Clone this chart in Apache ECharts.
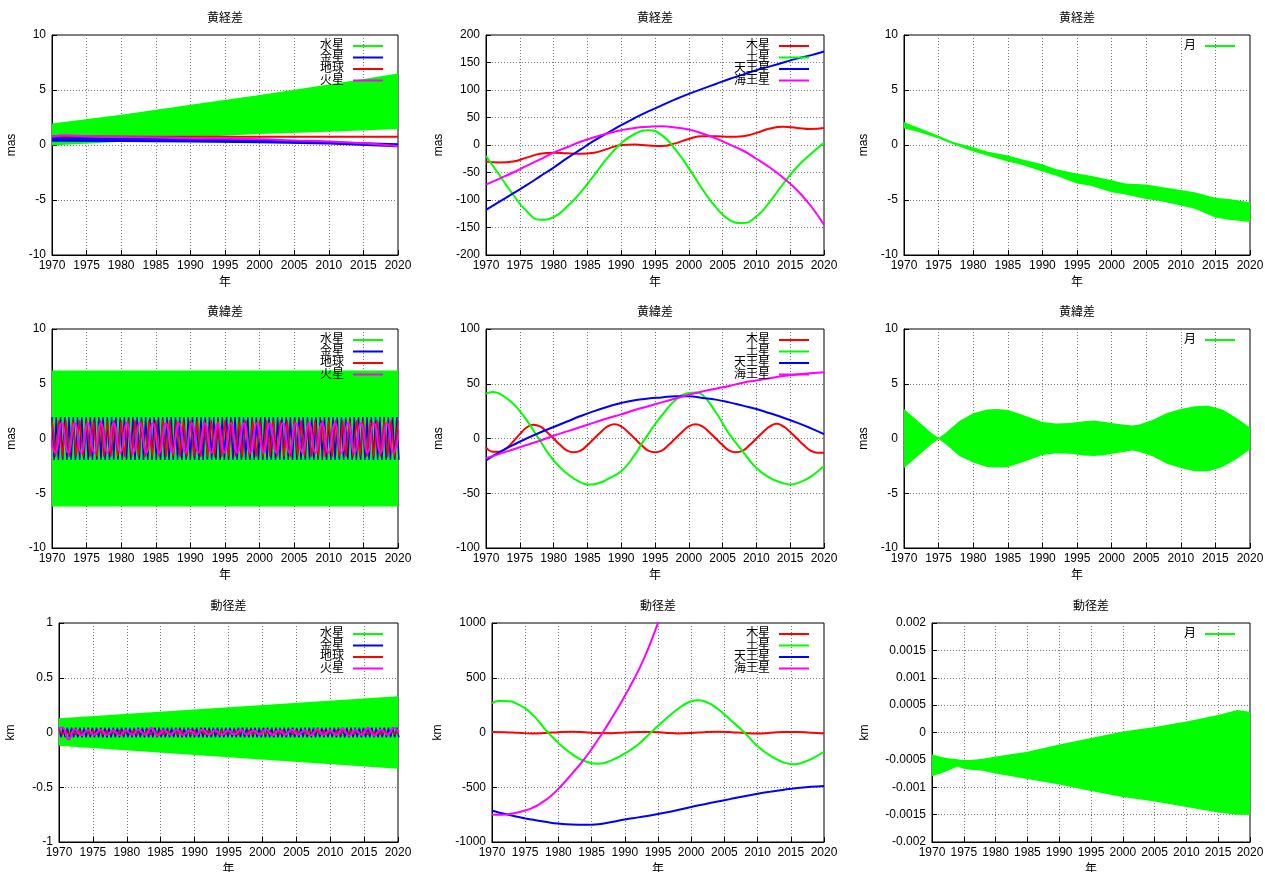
<!DOCTYPE html>
<html>
<head>
<meta charset="utf-8">
<title>差</title>
<script src="https://cdn.jsdelivr.net/npm/echarts@6/dist/echarts.min.js"></script>
<style>
html, body { margin: 0; padding: 0; background: #fff; }
#main { width: 1265px; height: 872px; }
</style>
</head>
<body>
<div id="main"></div>
<script>
'use strict';

// ---- 黄経差 (inner planets) ----
var mercLonYears = [1970, 1980, 1990, 2000, 2010, 2020];
var mercLonHi = [1.95, 2.75, 3.65, 4.55, 5.5, 6.5];
var mercLonLo = [-0.05, 0.3, 0.7, 1.0, 1.2, 1.45];
var venusLonYears = [1970, 1980, 1990, 2000, 2010, 2020];
var venusLonHi = [0.75, 0.68, 0.6, 0.5, 0.35, 0.15];
var venusLonLo = [0.3, 0.27, 0.22, 0.15, 0.05, -0.2];
var earthLonYears = [1970, 1980, 1990, 2000, 2010, 2020];
var earthLonVals = [0.8, 0.77, 0.75, 0.74, 0.74, 0.75];
var marsLonYears = [1970, 1972, 1975, 1980, 1985, 1990, 1995, 2000, 2005, 2010, 2015, 2020];
var marsLonVals = [0.75, 0.88, 0.8, 0.72, 0.68, 0.62, 0.58, 0.52, 0.42, 0.32, 0.15, -0.12];

// ---- outer planets, sampled every 2 years ----
var outerYears = [1970, 1972, 1974, 1976, 1978, 1980, 1982, 1984, 1986, 1988, 1990, 1992, 1994,
    1996, 1998, 2000, 2002, 2004, 2006, 2008, 2010, 2012, 2014, 2016, 2018, 2020];
var jupLon = [-30, -32, -30, -23, -16, -14, -15, -16, -14, -7, 0, 1, -1, -2, 3, 11, 16, 16, 15, 16, 22, 30, 33, 31, 29, 31];
var satLon = [-20, -55, -90, -120, -136, -131, -112, -86, -55, -23, 3, 20, 27, 18, -8, -42, -80, -113, -136, -142, -130, -103, -70, -40, -17, 4];
var uraLon = [-118, -103, -88, -73, -57, -41, -24, -8, 8, 22, 36, 49, 61, 72, 83, 93, 102, 111, 120, 128, 136, 143, 150, 157, 163, 170];
var nepLon = [-72, -61, -50, -38, -26, -14, -4, 6, 14, 21, 27, 31, 33, 34, 32, 28, 21, 12, 1, -10, -25, -41, -60, -82, -110, -145];

// ---- 黄緯差 (outer planets) ----
var jupLatYears = [1970, 1971, 1972, 1973, 1974, 1975, 1976, 1977, 1978, 1979,
    1980, 1981, 1982, 1983, 1984, 1985, 1986, 1987, 1988, 1989,
    1990, 1991, 1992, 1993, 1994, 1995, 1996, 1997, 1998, 1999,
    2000, 2001, 2002, 2003, 2004, 2005, 2006, 2007, 2008, 2009,
    2010, 2011, 2012, 2013, 2014, 2015, 2016, 2017, 2018, 2019, 2020];
var jupLat = [-8, -12, -12, -9, -3, 4, 10, 12.5, 11, 6,
    0, -6, -11, -12.5, -11, -6, 0, 6, 11, 13,
    11, 6, 0, -6, -11, -12.5, -11, -6, 0, 6,
    11, 13, 11, 6, 0, -6, -11, -12.5, -11, -6,
    0, 6, 11, 13.5, 11, 6, 0, -6, -11, -13, -13];
var satLatYears = [1970, 1971, 1972, 1974, 1975, 1976, 1978, 1980, 1982, 1984,
    1985.5, 1987, 1988, 1990, 1992, 1993, 1994, 1995, 1996, 1998,
    2000, 2001, 2002, 2004, 2005, 2006, 2008, 2010, 2012, 2014,
    2015, 2016, 2018, 2020];
var satLat = [41, 42.5, 41, 32, 25, 17, -2, -20, -32, -40,
    -42, -40, -37, -30, -15, -5, 4, 13, 21, 35,
    41.5, 42, 40, 24, 14, 4, -12, -27, -36, -41,
    -42, -41, -35, -25];
var uraLat = [-20, -12.5, -6, 0, 5.5, 10.5, 15.5, 20.5, 25, 29, 32.5, 35, 36.5, 37.5, 38.5, 38.5, 37, 35.5, 33, 30, 27, 23, 19, 14.5, 9.5, 4];
var nepLat = [-18, -14, -10, -6, -2, 2.5, 6.5, 10.5, 14.5, 18.5, 22, 26, 29.5, 33, 36.5, 40, 43, 45.5, 48, 51, 53, 55, 57, 58.5, 59.5, 60.5];

// ---- 動径差 (outer planets) ----
var jupRad = [5, 3, -3, -8, -4, 3, 6, 2, -5, -6, 0, 5, 5, -2, -8, -5, 3, 6, 3, -5, -9, -3, 5, 5, -3, -8];
var satRadYears = [1970, 1971, 1972, 1974, 1976, 1978, 1980, 1982, 1984, 1986,
    1988, 1990, 1992, 1994, 1996, 1998, 2000, 2001, 2002, 2004,
    2006, 2008, 2010, 2012, 2014, 2015.5, 2017, 2018, 2020];
var satRad = [268, 287, 288, 255, 170, 30, -95, -195, -262, -285,
    -255, -191, -110, 5, 115, 215, 285, 295, 285, 215,
    110, 0, -125, -215, -275, -290, -270, -245, -176];
var uraRad = [-712, -745, -772, -795, -815, -832, -841, -843, -838, -818,
    -795, -775, -755, -733, -708, -680, -655, -630, -606, -583,
    -560, -540, -522, -507, -496, -488];
var nepRadYears = [1970, 1971, 1972, 1973, 1974, 1975, 1976, 1977, 1978, 1979,
    1980, 1981, 1982, 1983, 1984, 1985, 1986, 1987, 1988, 1989,
    1990, 1991, 1992, 1993, 1994, 1995, 1996];
var nepRad = [-748, -752, -750, -740, -728, -712, -690, -660, -620, -572,
    -515, -450, -380, -310, -235, -152, -62, 30, 128, 228,
    333, 445, 560, 690, 840, 1000, 1170];

// ---- 月 (envelopes of the fast oscillation) ----
var moonLonYears = [1970, 1972, 1975, 1977, 1980, 1982, 1985, 1987, 1990, 1992, 1995, 1997, 2000, 2002, 2005, 2007, 2010, 2012, 2015, 2017, 2020];
var moonLonHi = [2.1, 1.6, 0.85, 0.3, -0.2, -0.6, -0.95, -1.3, -1.75, -2.2, -2.6, -2.8, -3.2, -3.5, -3.6, -3.8, -4.1, -4.3, -4.8, -4.9, -5.2];
var moonLonLo = [1.5, 1.2, 0.6, 0.1, -0.6, -0.95, -1.5, -1.8, -2.4, -2.8, -3.5, -3.7, -4.3, -4.5, -4.9, -5.1, -5.5, -5.8, -6.6, -6.8, -7.0];
var moonLatYears = [1970, 1972, 1974, 1975, 1976, 1978, 1980, 1982, 1983.5, 1985,
    1987, 1990, 1992, 1994, 1996, 1997.5, 1999, 2001, 2003, 2004,
    2006, 2008, 2010, 2012, 2014, 2016, 2018, 2020];
var moonLatHi = [2.7, 1.6, 0.5, 0.05, 0.5, 1.6, 2.3, 2.65, 2.7, 2.6,
    2.2, 1.5, 1.36, 1.42, 1.58, 1.64, 1.5, 1.33, 1.18, 1.27,
    1.72, 2.33, 2.7, 2.94, 3.0, 2.64, 1.9, 1.0];
var moonLatLo = [-2.7, -1.6, -0.5, -0.05, -0.5, -1.6, -2.2, -2.6, -2.65, -2.6,
    -2.2, -1.5, -1.35, -1.4, -1.55, -1.6, -1.5, -1.3, -1.1, -1.2,
    -1.65, -2.3, -2.7, -3.0, -3.0, -2.6, -1.9, -1.0];
var moonRadYears = [1970, 1972, 1974, 1975, 1976, 1978, 1980, 1985, 1990, 1995, 2000, 2005, 2010, 2015, 2018, 2020];
var moonRadHi = [-0.0004, -0.00046, -0.00049, -0.0005, -0.0005, -0.00048, -0.00044, -0.00035, -0.00022, -0.0001, 0.00002, 0.0001, 0.0002, 0.00032, 0.00041, 0.00038];
var moonRadLo = [-0.0008, -0.00072, -0.00062, -0.00066, -0.00068, -0.0007, -0.00075, -0.00085, -0.00095, -0.00107, -0.00118, -0.00126, -0.00136, -0.00146, -0.0015, -0.0015];

// ---- inner planets, 黄緯差 / 動径差 ----
var mercLatYears = [1970, 2020];
var mercLatHi = [6.2, 6.2];
var mercLatLo = [-6.2, -6.2];
var mercRadYears = [1970, 1995, 2020];
var mercRadHi = [0.13, 0.23, 0.33];
var mercRadLo = [-0.12, -0.225, -0.33];

// extremes of the oscillations, one value every half period
var venusStart = 1970.0, venusStep = 0.3076;
var earthStart = 1970.0, earthStep = 0.5;
var marsStart = 1969.53, marsStep = 0.94;
var venusLat = [
    1.95, -1.95, 1.95, -1.95, 1.95, -1.95, 1.95, -1.95, 1.95, -1.95, 1.95, -1.95, 1.95, -1.95, 1.95, -1.95, 1.95, -1.95, 1.95, -1.95,
    1.95, -1.95, 1.95, -1.95, 1.95, -1.95, 1.95, -1.95, 1.95, -1.95, 1.95, -1.95, 1.95, -1.95, 1.95, -1.95, 1.95, -1.95, 1.95, -1.95,
    1.95, -1.95, 1.95, -1.95, 1.95, -1.95, 1.95, -1.95, 1.95, -1.95, 1.95, -1.95, 1.95, -1.95, 1.95, -1.95, 1.95, -1.95, 1.95, -1.95,
    1.95, -1.95, 1.95, -1.95, 1.95, -1.95, 1.95, -1.95, 1.95, -1.95, 1.95, -1.95, 1.95, -1.95, 1.95, -1.95, 1.95, -1.95, 1.95, -1.95,
    1.95, -1.95, 1.95, -1.95, 1.95, -1.95, 1.95, -1.95, 1.95, -1.95, 1.95, -1.95, 1.95, -1.95, 1.95, -1.95, 1.95, -1.95, 1.95, -1.95,
    1.95, -1.95, 1.95, -1.95, 1.95, -1.95, 1.95, -1.95, 1.95, -1.95, 1.95, -1.95, 1.95, -1.95, 1.95, -1.95, 1.95, -1.95, 1.95, -1.95,
    1.95, -1.95, 1.95, -1.95, 1.95, -1.95, 1.95, -1.95, 1.95, -1.95, 1.95, -1.95, 1.95, -1.95, 1.95, -1.95, 1.95, -1.95, 1.95, -1.95,
    1.95, -1.95, 1.95, -1.95, 1.95, -1.95, 1.95, -1.95, 1.95, -1.95, 1.95, -1.95, 1.95, -1.95, 1.95, -1.95, 1.95, -1.95, 1.95, -1.95,
    1.95, -1.95, 1.95, -1.95
];
var earthLat = [
    1.65, -1.65, 1.65, -1.65, 1.65, -1.65, 1.65, -1.65, 1.65, -1.65, 1.65, -1.65, 1.65, -1.65, 1.65, -1.65, 1.65, -1.65, 1.65, -1.65,
    1.65, -1.65, 1.65, -1.65, 1.65, -1.65, 1.65, -1.65, 1.65, -1.65, 1.65, -1.65, 1.65, -1.65, 1.65, -1.65, 1.65, -1.65, 1.65, -1.65,
    1.65, -1.65, 1.65, -1.65, 1.65, -1.65, 1.65, -1.65, 1.65, -1.65, 1.65, -1.65, 1.65, -1.65, 1.65, -1.65, 1.65, -1.65, 1.65, -1.65,
    1.65, -1.65, 1.65, -1.65, 1.65, -1.65, 1.65, -1.65, 1.65, -1.65, 1.65, -1.65, 1.65, -1.65, 1.65, -1.65, 1.65, -1.65, 1.65, -1.65,
    1.65, -1.65, 1.65, -1.65, 1.65, -1.65, 1.65, -1.65, 1.65, -1.65, 1.65, -1.65, 1.65, -1.65, 1.65, -1.65, 1.65, -1.65, 1.65, -1.65,
    1.65
];
var marsLat = [
    1.4, -1.3, 1.4, -1.3, 1.4, -1.3, 1.4, -1.3, 1.4, -1.3, 1.4, -1.3, 1.4, -1.3, 1.4, -1.3, 1.4, -1.3, 1.4, -1.3,
    1.4, -1.3, 1.4, -1.3, 1.4, -1.3, 1.4, -1.3, 1.4, -1.3, 1.4, -1.3, 1.4, -1.3, 1.4, -1.3, 1.4, -1.3, 1.4, -1.3,
    1.4, -1.3, 1.4, -1.3, 1.4, -1.3, 1.4, -1.3, 1.4, -1.3, 1.4, -1.3, 1.4, -1.3, 1.4
];
var venusRad = [
    0.045, -0.045, 0.045, -0.045, 0.045, -0.045, 0.045, -0.045, 0.045, -0.045, 0.045, -0.045, 0.045, -0.045, 0.045, -0.045, 0.045, -0.045, 0.045, -0.045,
    0.045, -0.045, 0.045, -0.045, 0.045, -0.045, 0.045, -0.045, 0.045, -0.045, 0.045, -0.045, 0.045, -0.045, 0.045, -0.045, 0.045, -0.045, 0.045, -0.045,
    0.045, -0.045, 0.045, -0.045, 0.045, -0.045, 0.045, -0.045, 0.045, -0.045, 0.045, -0.045, 0.045, -0.045, 0.045, -0.045, 0.045, -0.045, 0.045, -0.045,
    0.045, -0.045, 0.045, -0.045, 0.045, -0.045, 0.045, -0.045, 0.045, -0.045, 0.045, -0.045, 0.045, -0.045, 0.045, -0.045, 0.045, -0.045, 0.045, -0.045,
    0.045, -0.045, 0.045, -0.045, 0.045, -0.045, 0.045, -0.045, 0.045, -0.045, 0.045, -0.045, 0.045, -0.045, 0.045, -0.045, 0.045, -0.045, 0.045, -0.045,
    0.045, -0.045, 0.045, -0.045, 0.045, -0.045, 0.045, -0.045, 0.045, -0.045, 0.045, -0.045, 0.045, -0.045, 0.045, -0.045, 0.045, -0.045, 0.045, -0.045,
    0.045, -0.045, 0.045, -0.045, 0.045, -0.045, 0.045, -0.045, 0.045, -0.045, 0.045, -0.045, 0.045, -0.045, 0.045, -0.045, 0.045, -0.045, 0.045, -0.045,
    0.045, -0.045, 0.045, -0.045, 0.045, -0.045, 0.045, -0.045, 0.045, -0.045, 0.045, -0.045, 0.045, -0.045, 0.045, -0.045, 0.045, -0.045, 0.045, -0.045,
    0.045, -0.045, 0.045, -0.045
];
var earthRad = [
    0.018, -0.018, 0.018, -0.018, 0.018, -0.018, 0.018, -0.018, 0.018, -0.018, 0.018, -0.018, 0.018, -0.018, 0.018, -0.018, 0.018, -0.018, 0.018, -0.018,
    0.018, -0.018, 0.018, -0.018, 0.018, -0.018, 0.018, -0.018, 0.018, -0.018, 0.018, -0.018, 0.018, -0.018, 0.018, -0.018, 0.018, -0.018, 0.018, -0.018,
    0.018, -0.018, 0.018, -0.018, 0.018, -0.018, 0.018, -0.018, 0.018, -0.018, 0.018, -0.018, 0.018, -0.018, 0.018, -0.018, 0.018, -0.018, 0.018, -0.018,
    0.018, -0.018, 0.018, -0.018, 0.018, -0.018, 0.018, -0.018, 0.018, -0.018, 0.018, -0.018, 0.018, -0.018, 0.018, -0.018, 0.018, -0.018, 0.018, -0.018,
    0.018, -0.018, 0.018, -0.018, 0.018, -0.018, 0.018, -0.018, 0.018, -0.018, 0.018, -0.018, 0.018, -0.018, 0.018, -0.018, 0.018, -0.018, 0.018, -0.018,
    0.018
];
var marsRad = [
    0.01, 0.045, -0.065, 0.03, -0.025, 0.02, -0.02, 0.025, -0.02, 0.02,
    -0.025, 0.02, -0.02, 0.025, -0.02, 0.04, -0.03, 0.02, -0.02, 0.025,
    -0.025, 0.02, -0.02, 0.03, -0.02, 0.02, -0.025, 0.02, -0.02, 0.025,
    -0.02, 0.02, -0.02, 0.03, -0.025, 0.02, -0.02, 0.025, -0.02, 0.02,
    -0.025, 0.03, -0.02, 0.02, -0.02, 0.035, -0.03, 0.02, -0.02, 0.04,
    -0.03, 0.025, -0.02, 0.04, -0.02
];

var FONT = "'Liberation Sans', 'Noto Sans CJK JP', sans-serif";
var GREEN = '#00ff00', RED = '#ff0000', BLUE = '#0000ff', MAGENTA = '#ff00ff';
var INNER = ['水星', '金星', '地球', '火星'];
var OUTER = ['木星', '土星', '天王星', '海王星'];
var MOON = ['月'];

var panels = [
    {title: '黄経差', unit: 'mas', min: -10, max: 10, interval: 5, box: [52, 35, 346, 220], nameGap: 34, names: INNER},
    {title: '黄経差', unit: 'mas', min: -200, max: 200, interval: 50, box: [486, 35, 338, 220], nameGap: 41, names: OUTER},
    {title: '黄経差', unit: 'mas', min: -10, max: 10, interval: 5, box: [904, 35, 346, 220], nameGap: 34, names: MOON},
    {title: '黄緯差', unit: 'mas', min: -10, max: 10, interval: 5, box: [52, 329, 346, 219], nameGap: 34, names: INNER},
    {title: '黄緯差', unit: 'mas', min: -100, max: 100, interval: 50, box: [486, 329, 338, 219], nameGap: 41, names: OUTER},
    {title: '黄緯差', unit: 'mas', min: -10, max: 10, interval: 5, box: [904, 329, 346, 219], nameGap: 34, names: MOON},
    {title: '動径差', unit: 'km', min: -1, max: 1, interval: 0.5, box: [59, 623, 339, 219], nameGap: 42, names: INNER},
    {title: '動径差', unit: 'km', min: -1000, max: 1000, interval: 500, box: [492, 623, 332, 219], nameGap: 48, names: OUTER},
    {title: '動径差', unit: 'km', min: -0.002, max: 0.002, interval: 0.0005, box: [932, 623, 318, 219], nameGap: 61, names: MOON}
];

function pairs(xs, ys) {
    return xs.map(function (x, i) { return [x, ys[i]]; });
}

function lineSeries(name, color, gi, xs, ys, width, smooth) {
    return {
        name: name, type: 'line', xAxisIndex: gi, yAxisIndex: gi,
        data: pairs(xs, ys), showSymbol: false, symbol: 'none', smooth: smooth,
        clip: true, silent: true, animation: false,
        itemStyle: {color: color},
        lineStyle: {color: color, width: width}
    };
}

function zigSeries(name, color, gi, start, step, vals, width, smooth) {
    var xs = vals.map(function (v, i) { return start + i * step; });
    return lineSeries(name, color, gi, xs, vals, width, smooth);
}

// filled band between a lower and an upper envelope
function bandSeries(name, color, gi, xs, lo, hi) {
    return {
        name: name, type: 'custom', xAxisIndex: gi, yAxisIndex: gi,
        data: xs.map(function (x, i) { return [x, lo[i], hi[i]]; }),
        encode: {x: 0, y: [1, 2]},
        clip: true, silent: true, animation: false,
        itemStyle: {color: color},
        renderItem: function (params, api) {
            if (params.dataIndex !== 0) return null;
            var top = xs.map(function (x, i) { return api.coord([x, hi[i]]); });
            var bottom = xs.map(function (x, i) { return api.coord([x, lo[i]]); }).reverse();
            return {type: 'polygon', shape: {points: top.concat(bottom)}, style: {fill: color}};
        }
    };
}

var txt = {color: '#000', fontSize: 12, fontFamily: FONT};
var grid = [], xAxis = [], yAxis = [], title = [], legend = [];

panels.forEach(function (p, i) {
    var b = p.box;
    grid.push({
        left: b[0], top: b[1], width: b[2], height: b[3],
        show: true, borderColor: '#000', borderWidth: 1, backgroundColor: 'transparent',
        containLabel: false, outerBoundsMode: 'none'
    });
    xAxis.push({
        gridIndex: i, type: 'value', min: 1970, max: 2020, interval: 5,
        name: '年', nameLocation: 'middle', nameGap: 22, nameTextStyle: txt, nameMoveOverlap: false,
        axisLine: {show: true, onZero: false, lineStyle: {color: '#000', width: 1}},
        axisTick: {show: true, inside: true, length: 5, lineStyle: {color: '#000'}},
        axisLabel: {margin: 5, color: '#000', fontSize: 12, fontFamily: FONT,
            formatter: function (v) { return String(v); }},
        splitLine: {show: true, showMinLine: false, showMaxLine: false,
            lineStyle: {type: [1, 2], color: '#777', width: 1}}
    });
    yAxis.push({
        gridIndex: i, type: 'value', min: p.min, max: p.max, interval: p.interval,
        name: p.unit, nameLocation: 'middle', nameGap: p.nameGap, nameTextStyle: txt, nameMoveOverlap: false,
        axisLine: {show: true, onZero: false, lineStyle: {color: '#000', width: 1}},
        axisTick: {show: true, inside: true, length: 5, lineStyle: {color: '#000'}},
        axisLabel: {margin: 6, color: '#000', fontSize: 12, fontFamily: FONT,
            formatter: function (v) { return String(Number(v.toFixed(6))); }},
        splitLine: {show: true, showMinLine: false, showMaxLine: false,
            lineStyle: {type: [1, 2], color: '#777', width: 1}}
    });
    title.push({
        text: p.title, left: b[0] + b[2] / 2, top: b[1] - 22, textAlign: 'center', padding: 0,
        textStyle: {color: '#000', fontSize: 12, fontWeight: 'normal', fontFamily: FONT}
    });
    p.names.forEach(function (name, k) {
        legend.push({
            data: [name], orient: 'horizontal', align: 'right', selectedMode: false,
            right: 1265 - (b[0] + b[2] - 15), top: b[1] + 10 + k * 11.5 - 5, padding: 0,
            icon: 'rect', itemWidth: 30, itemHeight: 2,
            textStyle: {color: '#000', fontSize: 12, fontFamily: FONT, padding: [0, 4, 0, 0]}
        });
    });
});

var series = [
    // 黄経差: inner planets
    bandSeries('水星', GREEN, 0, mercLonYears, mercLonLo, mercLonHi),
    bandSeries('金星', BLUE, 0, venusLonYears, venusLonLo, venusLonHi),
    lineSeries('地球', RED, 0, earthLonYears, earthLonVals, 2, true),
    lineSeries('火星', MAGENTA, 0, marsLonYears, marsLonVals, 2, true),
    // 黄経差: outer planets
    lineSeries('木星', RED, 1, outerYears, jupLon, 2, true),
    lineSeries('土星', GREEN, 1, outerYears, satLon, 2, true),
    lineSeries('天王星', BLUE, 1, outerYears, uraLon, 2, true),
    lineSeries('海王星', MAGENTA, 1, outerYears, nepLon, 2, true),
    // 黄経差: moon
    bandSeries('月', GREEN, 2, moonLonYears, moonLonLo, moonLonHi),
    // 黄緯差: inner planets
    bandSeries('水星', GREEN, 3, mercLatYears, mercLatLo, mercLatHi),
    zigSeries('金星', BLUE, 3, venusStart, venusStep, venusLat, 1.5, false),
    zigSeries('地球', RED, 3, earthStart, earthStep, earthLat, 1.5, false),
    zigSeries('火星', MAGENTA, 3, marsStart, marsStep, marsLat, 2, true),
    // 黄緯差: outer planets
    lineSeries('木星', RED, 4, jupLatYears, jupLat, 2, true),
    lineSeries('土星', GREEN, 4, satLatYears, satLat, 2, true),
    lineSeries('天王星', BLUE, 4, outerYears, uraLat, 2, true),
    lineSeries('海王星', MAGENTA, 4, outerYears, nepLat, 2, true),
    // 黄緯差: moon
    bandSeries('月', GREEN, 5, moonLatYears, moonLatLo, moonLatHi),
    // 動径差: inner planets
    bandSeries('水星', GREEN, 6, mercRadYears, mercRadLo, mercRadHi),
    zigSeries('金星', BLUE, 6, venusStart, venusStep, venusRad, 1.5, false),
    zigSeries('地球', RED, 6, earthStart, earthStep, earthRad, 1.5, false),
    zigSeries('火星', MAGENTA, 6, marsStart, marsStep, marsRad, 2, true),
    // 動径差: outer planets
    lineSeries('木星', RED, 7, outerYears, jupRad, 2, true),
    lineSeries('土星', GREEN, 7, satRadYears, satRad, 2, true),
    lineSeries('天王星', BLUE, 7, outerYears, uraRad, 2, true),
    lineSeries('海王星', MAGENTA, 7, nepRadYears, nepRad, 2, true),
    // 動径差: moon
    bandSeries('月', GREEN, 8, moonRadYears, moonRadLo, moonRadHi)
];

var chart = echarts.init(document.getElementById('main'), null, {renderer: 'canvas'});
chart.setOption({
    animation: false,
    backgroundColor: '#fff',
    title: title,
    legend: legend,
    grid: grid,
    xAxis: xAxis,
    yAxis: yAxis,
    series: series
});
</script>
</body>
</html>
